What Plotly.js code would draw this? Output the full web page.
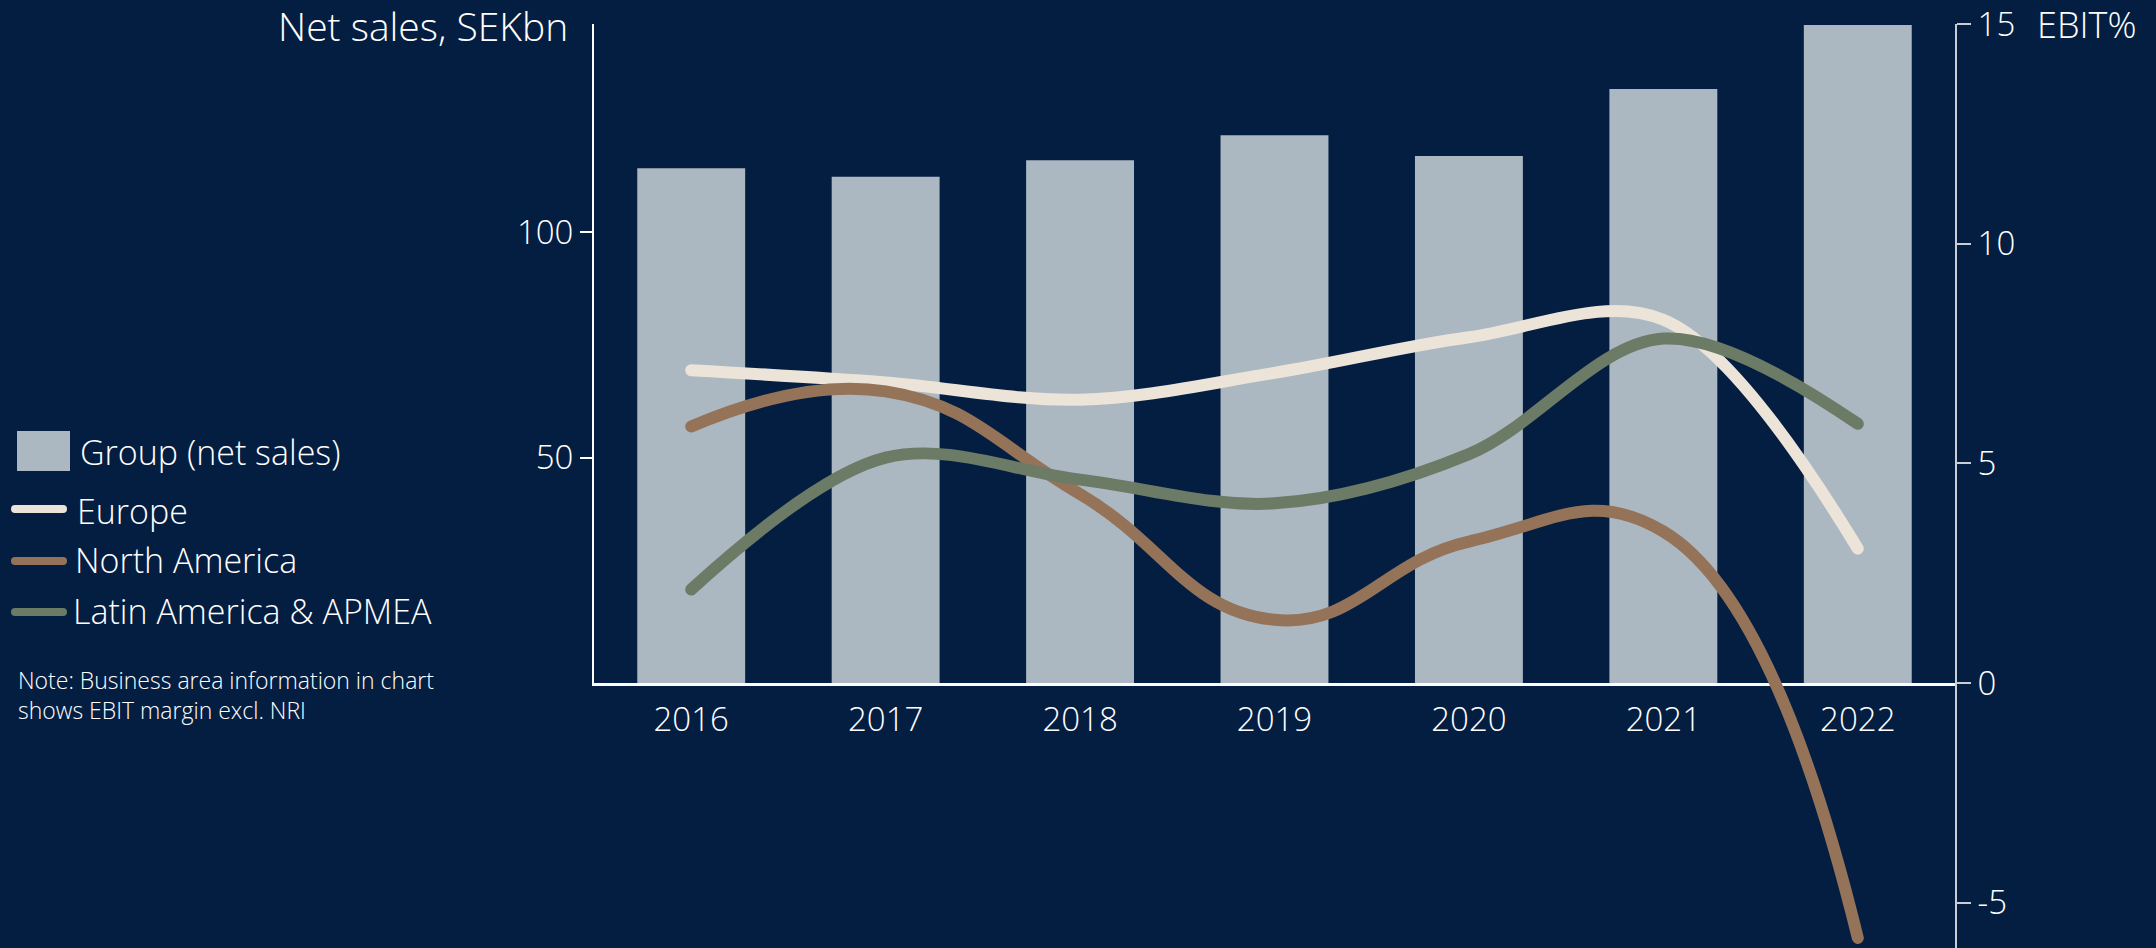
<!DOCTYPE html>
<html>
<head>
<meta charset="utf-8">
<script src="https://cdn.plot.ly/plotly-3.0.1.min.js"></script>
<style>
  html, body { margin: 0; padding: 0; background: #041E42; }
  path.js-line { stroke-linecap: round !important; }
  .shapelayer path { stroke-linecap: round !important; }
</style>
</head>
<body>
<div id="chart" style="width:2156px;height:948px;"></div>
<script>
// ---- Data ----
const years = ['2016', '2017', '2018', '2019', '2020', '2021', '2022'];
const groupNetSales = [114.2, 112.3, 116.0, 121.5, 116.9, 131.8, 146.0];   // SEKbn
const europeEbit = [7.12, 6.84, 6.45, 7.06, 7.87, 8.27, 3.06];            // EBIT %
const northAmericaEbit = [5.84, 6.64, 4.30, 1.44, 3.22, 3.45, -5.80];
const latamApmeaEbit = [2.13, 5.13, 4.63, 4.09, 5.21, 7.84, 5.90];

const leftTickVals = [50, 100];
const rightTickVals = [-5, 0, 5, 10, 15];
const rightTickText = ['-5', '0', '5', '10', '15'];

const seriesNames = ['Group (net sales)', 'Europe', 'North America', 'Latin America & APMEA'];
const noteText = 'Note: Business area information in chart<br>shows EBIT margin excl. NRI';
const leftTitle = 'Net sales, SEKbn';
const rightTitle = 'EBIT%';

// ---- Styling ----
const BG = '#041E42';
const BAR = '#ABB8C2';
const C_EU = '#ECE4D8';
const C_NA = '#957359';
const C_LA = '#6B7B66';
const FONT = '"Open Sans", Lato, sans-serif';
const WEIGHT = 300;

const W = 2156, H = 948;
const M = { l: 594, r: 201, t: 24, b: 0 };
const plotW = W - M.l - M.r;
const plotH = H - M.t - M.b;
const px = p => (p - M.l) / plotW;      // pixel -> paper x
const py = p => (H - M.b - p) / plotH;  // pixel -> paper y
const f = s => ({ family: FONT, size: s, color: '#FFFFFF', weight: WEIGHT });

const traces = [
  {
    type: 'bar', x: years, y: groupNetSales, name: seriesNames[0],
    marker: { color: BAR, line: { width: 0 } },
    xaxis: 'x', yaxis: 'y', hoverinfo: 'skip'
  },
  {
    type: 'scatter', mode: 'lines', x: years, y: europeEbit, name: seriesNames[1],
    line: { color: C_EU, width: 12, shape: 'spline', smoothing: 1 },
    xaxis: 'x', yaxis: 'y2', hoverinfo: 'skip'
  },
  {
    type: 'scatter', mode: 'lines', x: years, y: northAmericaEbit, name: seriesNames[2],
    line: { color: C_NA, width: 12, shape: 'spline', smoothing: 1.3 },
    xaxis: 'x', yaxis: 'y2', hoverinfo: 'skip'
  },
  {
    type: 'scatter', mode: 'lines', x: years, y: latamApmeaEbit, name: seriesNames[3],
    line: { color: C_LA, width: 12, shape: 'spline', smoothing: 1 },
    xaxis: 'x', yaxis: 'y2', hoverinfo: 'skip'
  }
];

const yBottomPx = 683;
const layout = {
  width: W, height: H,
  margin: M,
  paper_bgcolor: BG, plot_bgcolor: 'rgba(0,0,0,0)',
  showlegend: false,
  font: f(33),
  bargap: 0.445,
  xaxis: {
    type: 'category', range: [-0.5, 6.5], anchor: 'y', domain: [0, 1],
    showline: true, linecolor: '#FFFFFF', linewidth: 3,
    ticks: '', showgrid: false, zeroline: false,
    tickfont: f(33),
    ticklabelstandoff: 5
  },
  yaxis: {
    domain: [py(yBottomPx), 1], range: [0, 146.2], anchor: 'x',
    showline: true, linecolor: '#FFFFFF', linewidth: 2,
    ticks: 'outside', ticklen: 12, tickwidth: 2, tickcolor: '#FFFFFF',
    tickvals: leftTickVals, showgrid: false, zeroline: false,
    tickfont: f(33)
  },
  yaxis2: {
    domain: [0, 1], anchor: 'x', side: 'right',
    range: [-6.03, 15],
    showline: true, linecolor: '#C9CED6', linewidth: 2,
    ticks: 'outside', ticklen: 14, tickwidth: 2, tickcolor: '#C9CED6',
    tickvals: rightTickVals, ticktext: rightTickText,
    showgrid: false, zeroline: false,
    tickfont: f(33)
  },
  shapes: [
    { type: 'rect', xref: 'paper', yref: 'paper', x0: px(17), x1: px(70), y0: py(471), y1: py(431),
      fillcolor: BAR, line: { width: 0 } },
    { type: 'line', xref: 'paper', yref: 'paper', x0: px(15), x1: px(63), y0: py(509), y1: py(509),
      line: { color: C_EU, width: 8 } },
    { type: 'line', xref: 'paper', yref: 'paper', x0: px(15), x1: px(63), y0: py(561), y1: py(561),
      line: { color: C_NA, width: 8 } },
    { type: 'line', xref: 'paper', yref: 'paper', x0: px(15), x1: px(63), y0: py(612), y1: py(612),
      line: { color: C_LA, width: 8 } }
  ],
  annotations: [
    { xref: 'paper', yref: 'paper', x: px(570), y: py(26), xanchor: 'right', yanchor: 'middle',
      text: leftTitle, showarrow: false, font: f(39) },
    { xref: 'paper', yref: 'paper', x: px(2036), y: py(24), xanchor: 'left', yanchor: 'middle',
      borderpad: 0, text: rightTitle, showarrow: false, font: f(36) },
    { xref: 'paper', yref: 'paper', x: px(78), y: py(452), xanchor: 'left', yanchor: 'middle',
      text: seriesNames[0], showarrow: false, font: f(34) },
    { xref: 'paper', yref: 'paper', x: px(75), y: py(511), xanchor: 'left', yanchor: 'middle',
      text: seriesNames[1], showarrow: false, font: f(34) },
    { xref: 'paper', yref: 'paper', x: px(73), y: py(560), xanchor: 'left', yanchor: 'middle',
      text: seriesNames[2], showarrow: false, font: f(34) },
    { xref: 'paper', yref: 'paper', x: px(71), y: py(611), xanchor: 'left', yanchor: 'middle',
      text: seriesNames[3], showarrow: false, font: f(34) },
    { xref: 'paper', yref: 'paper', x: px(16), y: py(662), xanchor: 'left', yanchor: 'top', align: 'left',
      text: noteText, showarrow: false, font: f(23) }
  ]
};

Plotly.newPlot('chart', traces, layout, { displayModeBar: false, staticPlot: true });
</script>
</body>
</html>
